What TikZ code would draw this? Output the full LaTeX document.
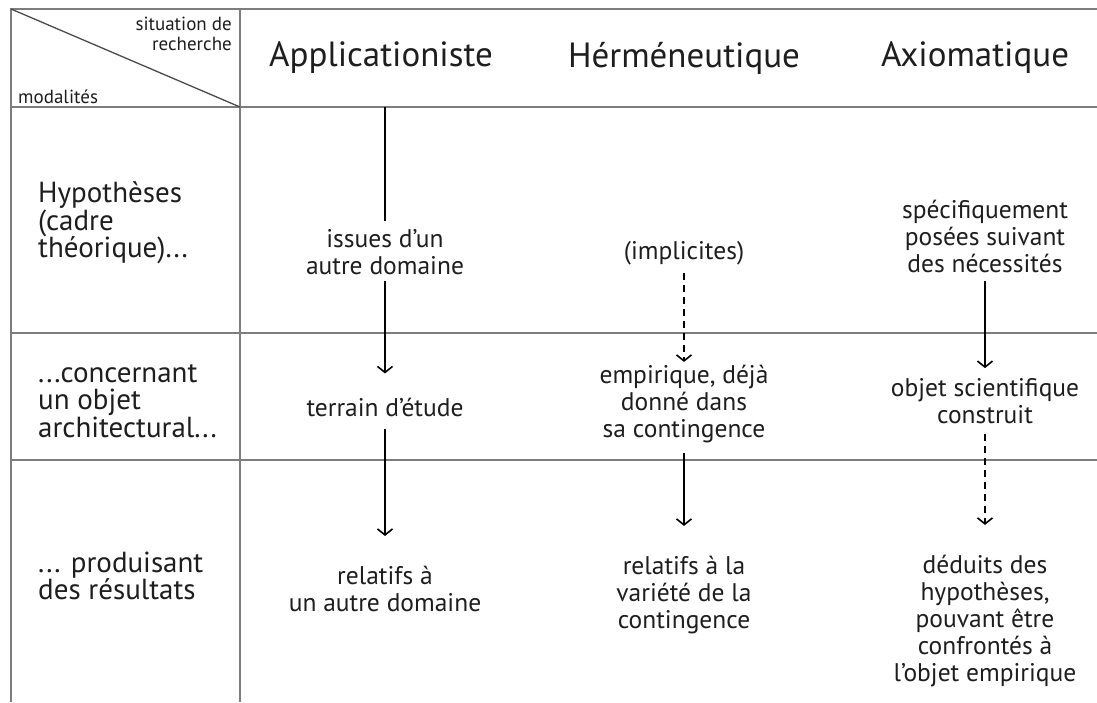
\documentclass[tikz,border=0pt]{standalone}
\usepackage{fontspec}
\setmainfont{PT Sans}
\usetikzlibrary{arrows.meta}
\definecolor{gridc}{RGB}{125,125,125}
\definecolor{ink}{RGB}{30,30,30}
\begin{document}
\begin{tikzpicture}[x=1pt,y=-1pt,
  gridline/.style={draw=gridc,line width=2pt},
  diag/.style={draw=ink!80,line width=1.3pt},
  head/.style={font=\fontsize{35}{40}\selectfont,text=ink,inner sep=0pt},
  corner/.style={font=\fontsize{19}{20}\selectfont,text=ink,inner sep=0pt},
  rowlab/.style={font=\fontsize{29}{27.5}\selectfont,align=left,anchor=west,text=ink,inner sep=0pt},
  body/.style={font=\fontsize{25.5}{27}\selectfont,align=center,text=ink,inner sep=0pt},
  plainline/.style={draw=black,line width=1.6pt},
  arr/.style={draw=black,line width=1.6pt,-{Straight Barb[length=6pt,width=15pt]}},
  dsh/.style={dash pattern=on 7pt off 5pt}]
\useasboundingbox (0,0) rectangle (1097,702);
\fill[white] (0,0) rectangle (1097,702);
% grid
\draw[gridline] (1097,9) -- (11,9) -- (11,702);
\draw[gridline] (240,9) -- (240,702);
\draw[gridline] (11,107) -- (1097,107);
\draw[gridline] (11,333) -- (1097,333);
\draw[gridline] (11,460) -- (1097,460);
\draw[diag] (11,9) -- (240,107);
% corner labels
\node[corner,align=right,anchor=east] (sit) at (232,34) {situation de\\recherche};
\node[corner,anchor=west] (mod) at (18,97) {modalités};
% headers
\node[head] (h1) at (381,58) {Applicationiste};
\node[head] (h2) at (684,58) {Hérméneutique};
\node[head] (h3) at (975,58) {Axiomatique};
% row labels
\node[rowlab] (r1) at (38,223) {Hypothèses\\(cadre\\théorique)...};
\node[rowlab] (r2) at (38,401) {...concernant\\un objet\\architectural...};
\node[rowlab] (r3) at (38,576) {... produisant\\des résultats};
% column 1
\coordinate (a0) at (385,107);
\node[body] (a1) at (385,252) {issues d’un\\autre domaine};
\node[body] (a2) at (385,407) {terrain d’étude};
\node[body] (a3) at (385,589) {relatifs à\\un autre domaine};
% column 2
\node[body] (b1) at (684,253) {(implicites)};
\node[body] (b2) at (684,404) {empirique, déjà\\donné dans\\sa contingence};
\node[body] (b3) at (684,595) {relatifs à la\\variété de la\\contingence};
% column 3
\node[body] (c1) at (985,236) {spécifiquement\\posées suivant\\des nécessités};
\node[body] (c2) at (985,401) {objet scientifique\\construit};
\node[body] (c3) at (985,621) {déduits des\\hypothèses,\\pouvant être\\confrontés à\\l’objet empirique};
% connectors
\draw[plainline,shorten >=8pt] (a0) -- (a1);
\draw[arr,shorten <=6pt,shorten >=24pt] (a1) -- (a2);
\draw[arr,shorten <=12pt,shorten >=30pt] (a2) -- (a3);
\draw[arr,dsh,shorten <=8pt,shorten >=3pt] (b1) -- (b2);
\draw[arr,shorten <=10pt,shorten >=30pt] (b2) -- (b3);
\draw[arr,shorten <=8pt,shorten >=10pt] (c1) -- (c2);
\draw[arr,dsh,shorten <=10pt,shorten >=30pt] (c2) -- (c3);
\end{tikzpicture}
\end{document}
